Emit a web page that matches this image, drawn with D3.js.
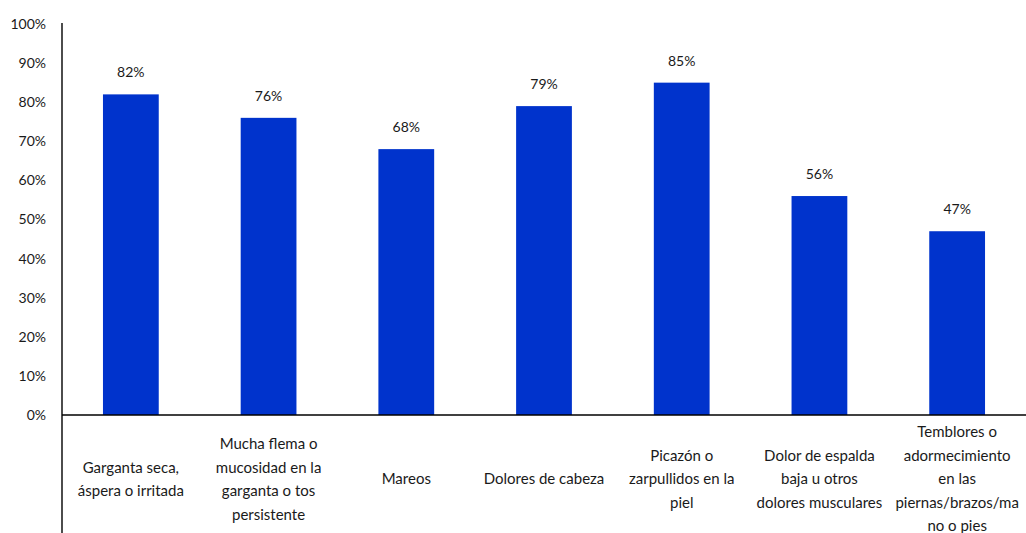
<!DOCTYPE html>
<html>
<head>
<meta charset="utf-8">
<script src="https://cdn.jsdelivr.net/npm/d3@7"></script>
<style>
  html, body { margin: 0; padding: 0; background: #fff; }
  svg { display: block; }
  text { font-family: Lato, "Open Sans", sans-serif; fill: #1a1a1a; }
</style>
</head>
<body>
<svg id="chart" width="1026" height="533"></svg>
<script>
// Symptom categories (line breaks as shown under the axis)
const categories = [
  "Garganta seca,\náspera o irritada",
  "Mucha flema o\nmucosidad en la\ngarganta o tos\npersistente",
  "Mareos",
  "Dolores de cabeza",
  "Picazón o\nzarpullidos en la\npiel",
  "Dolor de espalda\nbaja u otros\ndolores musculares",
  "Temblores o\nadormecimiento\nen las\npiernas/brazos/ma\nno o pies"
];
// Share of respondents (%)
const values = [82, 76, 68, 79, 85, 56, 47];
// Y-axis ticks (%)
const yTicks = [0, 10, 20, 30, 40, 50, 60, 70, 80, 90, 100];

const width = 1026, height = 533;
const margin = { left: 62, right: 0, top: 24, axisY: 415 };

const svg = d3.select("#chart");

const x = d3.scaleBand()
  .domain(categories)
  .range([margin.left, width - margin.right])
  .paddingInner(0.595)
  .paddingOuter(0.2975);

const y = d3.scaleLinear()
  .domain([0, 100])
  .range([margin.axisY, margin.top]);

// Bars
svg.append("g")
  .selectAll("rect")
  .data(values)
  .join("rect")
  .attr("x", (d, i) => x(categories[i]))
  .attr("y", d => y(d))
  .attr("width", x.bandwidth())
  .attr("height", d => y(0) - y(d))
  .attr("fill", "#0033cc");

// Value labels
svg.append("g")
  .selectAll("text")
  .data(values)
  .join("text")
  .attr("x", (d, i) => x(categories[i]) + x.bandwidth() / 2)
  .attr("y", d => y(d) - 17)
  .attr("text-anchor", "middle")
  .attr("font-size", 14)
  .text(d => d + "%");

// Y axis labels
const yAxis = d3.axisLeft(y)
  .tickValues(yTicks)
  .tickSize(0)
  .tickPadding(16)
  .tickFormat(d => d + "%");
const gy = svg.append("g")
  .attr("transform", `translate(${margin.left},0)`)
  .call(yAxis);
gy.select(".domain").remove();
gy.selectAll("text")
  .attr("font-size", 14)
  .attr("fill", "#1a1a1a")
  .style("font-family", "Lato, 'Open Sans', sans-serif");

// Axis lines
svg.append("line")
  .attr("x1", margin.left).attr("x2", margin.left)
  .attr("y1", margin.top - 1).attr("y2", height)
  .attr("stroke", "#000").attr("stroke-width", 1.4);
svg.append("line")
  .attr("x1", margin.left).attr("x2", width)
  .attr("y1", y(0)).attr("y2", y(0))
  .attr("stroke", "#000").attr("stroke-width", 1.4);

// Category labels, multi-line, vertically centred under each bar
const lineH = 23.5;
const labelCenter = 479;
const cats = svg.append("g")
  .selectAll("text")
  .data(categories)
  .join("text")
  .attr("text-anchor", "middle")
  .attr("font-size", 15)
  .attr("x", d => x(d) + x.bandwidth() / 2);
cats.each(function (d) {
  const lines = d.split("\n");
  const t = d3.select(this);
  const cx = x(d) + x.bandwidth() / 2;
  const y0 = labelCenter - (lines.length - 1) * lineH / 2;
  lines.forEach((ln, k) => {
    t.append("tspan")
      .attr("x", cx)
      .attr("y", y0 + k * lineH)
      .attr("dy", "0.35em")
      .text(ln);
  });
});
</script>
</body>
</html>
